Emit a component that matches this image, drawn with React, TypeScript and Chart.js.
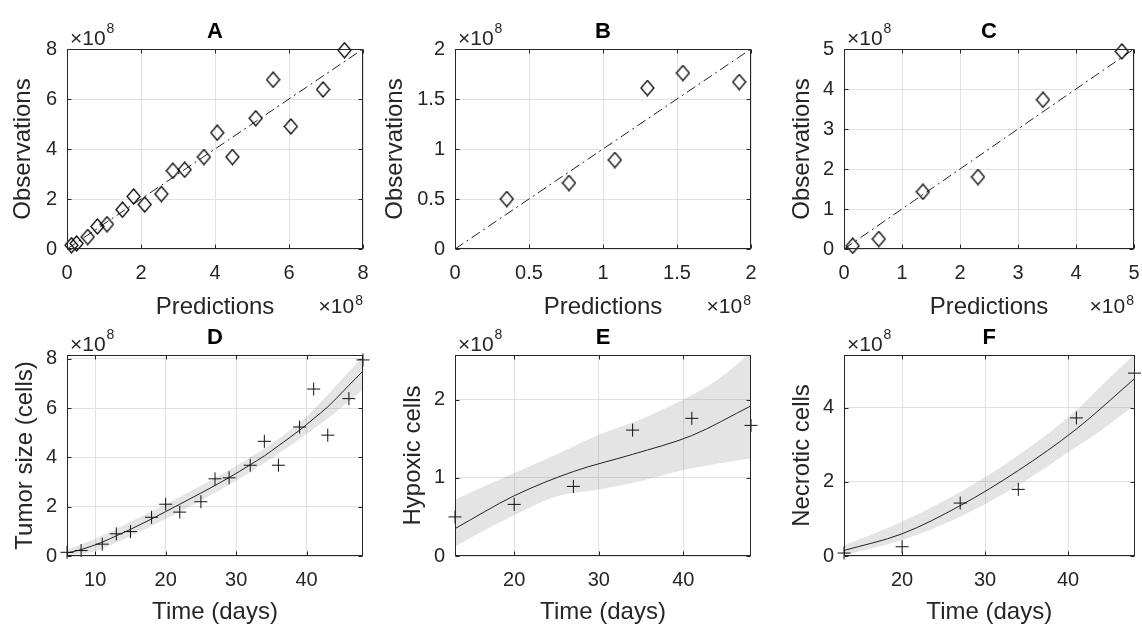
import React, { useEffect, useRef } from 'react';
import { Chart, registerables } from 'chart.js';

Chart.register(...registerables);

const FONT = '"Liberation Sans", Arial, Helvetica, sans-serif';
const INK = '#262626';
const GRID = '#e1e1e1';
const BAND = 'rgba(120,120,120,0.2)';
const EXPONENT = '8';

// ---------- data (values in units of 1e8 cells) ----------
// Tumour size: panels A (obs vs pred) and D (time course)
const daysTumor = [6, 8, 11, 13, 15, 18, 20, 22, 25, 27, 29, 32, 34, 36, 39, 41, 43, 46, 48];
const obsTumor = [0.15, 0.22, 0.48, 0.9, 0.99, 1.57, 2.1, 1.78, 2.2, 3.13, 3.17, 3.68, 4.65, 3.68, 5.23, 6.77, 4.9, 6.38, 7.95];
const predTumor = [0.12, 0.26, 0.56, 0.82, 1.08, 1.5, 1.8, 2.1, 2.55, 2.86, 3.18, 3.7, 4.06, 4.47, 5.1, 5.57, 6.05, 6.92, 7.5];
const bandDaysTumor = [6, 10, 15, 20, 25, 30, 35, 40, 44, 48];
const bandLowTumor = [0.0, 0.2, 0.8, 1.5, 2.25, 3.05, 3.95, 4.95, 5.8, 6.75];
const bandHighTumor = [0.25, 0.7, 1.38, 2.1, 2.85, 3.65, 4.55, 5.65, 6.85, 8.1];

// Hypoxic cells: panels B and E
const daysHyp = [13, 20, 27, 34, 41, 48];
const obsHyp = [0.5, 0.66, 0.89, 1.61, 1.76, 1.67];
const predHyp = [0.35, 0.77, 1.08, 1.3, 1.54, 1.92];
const bandDaysHyp = [13, 16, 20, 25, 30, 35, 40, 44, 48];
const bandLowHyp = [0.12, 0.3, 0.52, 0.76, 0.85, 0.96, 1.1, 1.18, 1.25];
const bandHighHyp = [0.72, 0.87, 1.06, 1.3, 1.55, 1.75, 2.0, 2.25, 2.6];

// Necrotic cells: panels C and F
const daysNec = [13, 20, 27, 34, 41, 48];
const obsNec = [0.08, 0.25, 1.43, 1.8, 3.73, 4.94];
const predNec = [0.15, 0.6, 1.36, 2.31, 3.43, 4.79];
const bandDaysNec = [13, 20, 27, 34, 41, 44, 48];
const bandLowNec = [0.02, 0.43, 1.06, 1.91, 2.95, 3.4, 4.07];
const bandHighNec = [0.28, 0.93, 1.73, 2.72, 3.94, 4.6, 5.45];

// axis settings
const letters = ['A', 'B', 'C', 'D', 'E', 'F'];
const yLabels = ['Observations', 'Observations', 'Observations', 'Tumor size (cells)', 'Hypoxic cells', 'Necrotic cells'];
const xLabelTop = 'Predictions';
const xLabelBottom = 'Time (days)';
const scatterMax = [8, 2, 5];
const scatterStep = [2, 0.5, 1];
const timeMin = [6, 13, 13];
const timeMax = [48, 48, 48];
const timeStep = [10, 10, 10];
const cellMax = [8.15, 2.57, 5.43];
const cellStep = [2, 1, 2];

// ---------- layout ----------
const COL_X = [0, 380, 765];
const COL_W = [380, 385, 377];
const ROW_Y = [0, 319];
const ROW_H = [319, 305];
const BOX_L = [67, 455, 844];
const BOX_R = [363, 751, 1141];
const BOX_T = [49, 355];
const BOX_B = [249, 556];
const YTITLE_C = [[23, 15, 37], [25, 33, 37]];

function drawExp(ctx: CanvasRenderingContext2D, x: number, baseline: number, align: 'left' | 'right', rise: number) {
  ctx.fillStyle = INK;
  ctx.textBaseline = 'alphabetic';
  ctx.textAlign = 'left';
  ctx.font = `21px ${FONT}`;
  const base = '\u00d710';
  const bw = ctx.measureText(base).width;
  ctx.font = `14px ${FONT}`;
  const ew = ctx.measureText(EXPONENT).width;
  const x0 = align === 'left' ? x : x - bw - ew - 1;
  ctx.font = `21px ${FONT}`;
  ctx.fillText(base, x0, baseline);
  ctx.font = `14px ${FONT}`;
  ctx.fillText(EXPONENT, x0 + bw + 1, baseline - rise);
}

const matlabAxes = {
  id: 'matlabAxes',
  afterDraw(chart: any, _args: any, opts: any) {
    const { ctx, chartArea: a, scales } = chart;
    ctx.save();
    ctx.strokeStyle = INK;
    ctx.lineWidth = 1;
    const L = Math.round(a.left) + 0.5;
    const R = Math.round(a.right) - 0.5;
    const T = Math.round(a.top) + 0.5;
    const B = Math.round(a.bottom) - 0.5;
    ctx.strokeRect(L, T, R - L, B - T);
    const tl = 4;
    ctx.beginPath();
    for (const t of scales.x.ticks) {
      const px = Math.round(scales.x.getPixelForValue(t.value)) + 0.5;
      ctx.moveTo(px, B); ctx.lineTo(px, B - tl);
      ctx.moveTo(px, T); ctx.lineTo(px, T + tl);
    }
    for (const t of scales.y.ticks) {
      const py = Math.round(scales.y.getPixelForValue(t.value)) + 0.5;
      ctx.moveTo(L, py); ctx.lineTo(L + tl, py);
      ctx.moveTo(R, py); ctx.lineTo(R - tl, py);
    }
    ctx.stroke();
    ctx.fillStyle = '#000';
    ctx.font = `bold 22px ${FONT}`;
    ctx.textAlign = 'center';
    ctx.textBaseline = 'middle';
    ctx.fillText(opts.letter, (a.left + a.right) / 2, a.top - 17);
    drawExp(ctx, a.left + 3, a.top - 4, 'left', 12);
    if (opts.xExp) drawExp(ctx, a.right, a.bottom + 64, 'right', 8);
    ctx.restore();
  },
};

function makeDiamond(): HTMLCanvasElement {
  const c = document.createElement('canvas');
  c.width = 15;
  c.height = 17;
  const g = c.getContext('2d')!;
  g.strokeStyle = '#000';
  g.lineWidth = 1.25;
  g.beginPath();
  g.moveTo(7.5, 1);
  g.lineTo(14, 8.5);
  g.lineTo(7.5, 16);
  g.lineTo(1, 8.5);
  g.closePath();
  g.stroke();
  return c;
}

const fmt = (v: any) => String(Math.round(Number(v) * 1000) / 1000);

type PanelSpec = { row: number; col: number };

function buildConfig({ row, col }: PanelSpec): any {
  const idx = row * 3 + col;
  const canvasTop = ROW_Y[row];
  const canvasH = ROW_H[row];
  const canvasL = COL_X[col];
  const canvasW = COL_W[col];
  const yW = BOX_L[col] - canvasL;
  const xH = canvasTop + canvasH - BOX_B[row];
  const yTitlePad = YTITLE_C[row][col] - 12;

  let datasets: any[];
  let xMin: number, xMax: number, xStep: number, yMax: number, yStep: number;

  const sets = [
    { days: daysTumor, obs: obsTumor, pred: predTumor, bd: bandDaysTumor, lo: bandLowTumor, hi: bandHighTumor },
    { days: daysHyp, obs: obsHyp, pred: predHyp, bd: bandDaysHyp, lo: bandLowHyp, hi: bandHighHyp },
    { days: daysNec, obs: obsNec, pred: predNec, bd: bandDaysNec, lo: bandLowNec, hi: bandHighNec },
  ];
  const s = sets[col];

  if (row === 0) {
    xMin = 0; xMax = scatterMax[col]; xStep = scatterStep[col];
    yMax = scatterMax[col]; yStep = scatterStep[col];
    datasets = [
      {
        data: s.pred.map((p, i) => ({ x: p, y: s.obs[i] })),
        showLine: false,
        pointStyle: makeDiamond(),
        pointRadius: 7,
        clip: false,
      },
      {
        data: [{ x: 0, y: 0 }, { x: scatterMax[col], y: scatterMax[col] }],
        borderColor: '#222',
        borderWidth: 1,
        borderDash: [10, 4, 2, 4],
        pointRadius: 0,
        fill: false,
      },
    ];
  } else {
    xMin = timeMin[col]; xMax = timeMax[col]; xStep = timeStep[col];
    yMax = cellMax[col]; yStep = cellStep[col];
    datasets = [
      {
        data: s.days.map((d, i) => ({ x: d, y: s.obs[i] })),
        showLine: false,
        pointStyle: 'cross',
        pointRadius: 6.5,
        pointBorderColor: '#111',
        pointBackgroundColor: 'transparent',
        pointBorderWidth: 1,
        clip: false,
      },
      {
        data: s.days.map((d, i) => ({ x: d, y: s.pred[i] })),
        borderColor: '#222',
        borderWidth: 1,
        pointRadius: 0,
        cubicInterpolationMode: 'monotone',
        fill: false,
      },
      {
        data: s.bd.map((d, i) => ({ x: d, y: s.hi[i] })),
        borderColor: 'rgba(0,0,0,0)',
        borderWidth: 0,
        pointRadius: 0,
        cubicInterpolationMode: 'monotone',
        fill: '+1',
        backgroundColor: BAND,
      },
      {
        data: s.bd.map((d, i) => ({ x: d, y: s.lo[i] })),
        borderColor: 'rgba(0,0,0,0)',
        borderWidth: 0,
        pointRadius: 0,
        cubicInterpolationMode: 'monotone',
        fill: false,
      },
    ];
  }

  return {
    type: 'line',
    data: { datasets },
    options: {
      responsive: false,
      animation: false,
      devicePixelRatio: 1,
      events: [],
      layout: {
        padding: { left: 0, top: BOX_T[row] - canvasTop, right: canvasL + canvasW - BOX_R[col], bottom: 0 },
      },
      scales: {
        x: {
          type: 'linear',
          min: xMin,
          max: xMax,
          afterFit(sc: any) { sc.height = xH; sc.paddingLeft = 0; sc.paddingRight = 0; },
          ticks: {
            stepSize: xStep, includeBounds: false, autoSkip: false, maxRotation: 0,
            padding: 12, color: INK, font: { size: 20, family: FONT }, callback: fmt,
          },
          grid: { color: GRID, drawTicks: false, lineWidth: 1 },
          border: { display: false },
          title: {
            display: true, text: row === 0 ? xLabelTop : xLabelBottom, color: INK,
            font: { size: 24, family: FONT, lineHeight: 1 }, padding: { top: 0, bottom: 0 },
          },
        },
        y: {
          type: 'linear',
          min: 0,
          max: yMax,
          afterFit(sc: any) { sc.width = yW; sc.paddingTop = 0; sc.paddingBottom = 0; },
          ticks: {
            stepSize: yStep, includeBounds: false, autoSkip: false,
            padding: 10, color: INK, font: { size: 20, family: FONT }, callback: fmt,
          },
          grid: { color: GRID, drawTicks: false, lineWidth: 1 },
          border: { display: false },
          title: {
            display: true, text: yLabels[idx], color: INK,
            font: { size: 24, family: FONT, lineHeight: 1 }, padding: { top: yTitlePad, bottom: 0 },
          },
        },
      },
      plugins: {
        legend: { display: false },
        tooltip: { enabled: false },
        matlabAxes: { letter: letters[idx], xExp: row === 0 },
      },
    },
    plugins: [matlabAxes],
  };
}

function Panel({ row, col }: PanelSpec) {
  const ref = useRef<HTMLCanvasElement>(null);
  useEffect(() => {
    const chart = new Chart(ref.current!, buildConfig({ row, col }));
    return () => chart.destroy();
  }, [row, col]);
  return (
    <canvas
      ref={ref}
      width={COL_W[col]}
      height={ROW_H[row]}
      style={{
        position: 'absolute',
        left: COL_X[col],
        top: ROW_Y[row],
        width: COL_W[col],
        height: ROW_H[row],
      }}
    />
  );
}

export default function App() {
  Chart.defaults.font.family = FONT;
  const panels: PanelSpec[] = [];
  for (let r = 0; r < 2; r++) for (let c = 0; c < 3; c++) panels.push({ row: r, col: c });
  return (
    <div
      style={{
        position: 'fixed',
        left: 0,
        top: 0,
        width: 1142,
        height: 624,
        overflow: 'hidden',
        background: '#fff',
      }}
    >
      {panels.map((p) => (
        <Panel key={`${p.row}-${p.col}`} row={p.row} col={p.col} />
      ))}
    </div>
  );
}
